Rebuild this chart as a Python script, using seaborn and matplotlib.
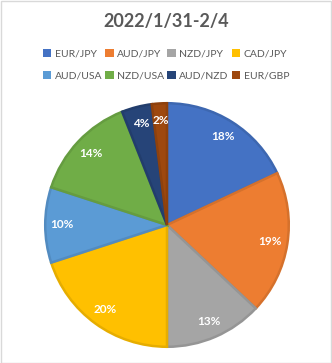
import matplotlib
matplotlib.use("Agg")
import matplotlib.pyplot as plt
import matplotlib.colors as mcolors
from matplotlib.patches import Rectangle
import seaborn as sns

# Weekly share of trades per currency pair
pairs = ["EUR/JPY", "AUD/JPY", "NZD/JPY", "CAD/JPY",
         "AUD/USA", "NZD/USA", "AUD/NZD", "EUR/GBP"]
shares = [18, 19, 13, 20, 10, 14, 4, 2]
title = "2022/1/31-2/4"

sns.set_theme(style="white")
plt.rcParams["font.family"] = ["Lato", "DejaVu Sans"]

palette = sns.color_palette(["#4472C4", "#ED7D31", "#A5A5A5", "#FFC000",
                             "#5B9BD5", "#70AD47", "#264478", "#9E480E"])
edge_cols = [tuple(c * 0.9 for c in mcolors.to_rgb(p)) for p in palette]

W, H = 332, 363
fig = plt.figure(figsize=(W / 100, H / 100), dpi=100)
fig.patch.set_facecolor("white")
fig.patches.append(Rectangle((0.5 / W, 0.5 / H), 1 - 1.5 / W, 1 - 1.5 / H,
                             transform=fig.transFigure, fill=False,
                             edgecolor="#D9D9D9", linewidth=1))

# pie centred at (167, 225) px, radius 123 px
cx, cy, r = 167, 225, 123
ax = fig.add_axes([(cx - r) / W, (H - cy - r) / H, 2 * r / W, 2 * r / H])
wedges, _, autotexts = ax.pie(
    shares, colors=palette, startangle=90, counterclock=False,
    autopct="%.0f%%", pctdistance=0.86,
    wedgeprops=dict(linewidth=1.8),
    textprops=dict(color="white", fontsize=8.5, fontweight="bold"),
)
for w, ec in zip(wedges, edge_cols):
    w.set_edgecolor(ec)
ax.set_xlim(-1.01, 1.01)
ax.set_ylim(-1.01, 1.01)
ax.set_aspect("auto")
ax.axis("off")

fig.text(0.5, 1 - 22 / H, title, ha="center", va="center",
         fontsize=13, fontweight="bold", color="#595959")

# legend reads row by row: matplotlib fills columns first, so reorder
ncol = 4
order = [row * ncol + col for col in range(ncol) for row in range(2)]
leg = fig.legend([wedges[i] for i in order], [pairs[i] for i in order],
                 ncol=ncol, loc="center",
                 bbox_to_anchor=(0.5, 1 - 64.5 / H), frameon=False,
                 fontsize=7.5, labelcolor="#595959",
                 handlelength=0.8, handleheight=0.8, handletextpad=0.35,
                 columnspacing=0.3, labelspacing=1.2, borderpad=0)
for h, c in zip(leg.legend_handles, [palette[i] for i in order]):
    h.set_edgecolor(c)
    h.set_linewidth(0)

fig.savefig("out.png", dpi=100, facecolor="white")
